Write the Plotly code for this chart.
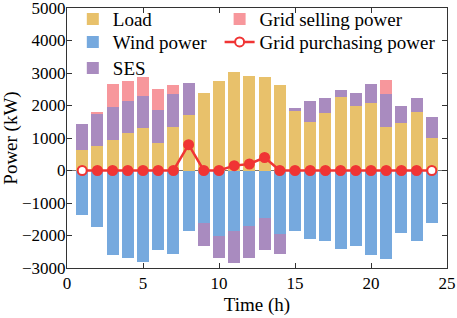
import plotly.graph_objects as go

hours = list(range(1, 25))
load = [630, 750, 940, 1140, 1320, 860, 1350, 1710, 2375, 2750, 3030, 2910,
        2870, 2620, 1840, 1500, 1780, 2270, 1985, 2070, 1350, 1470, 1790, 1000]
wind = [-1370, -1740, -2610, -2690, -2815, -2450, -2570, -1850, -1630, -2015, -1860, -1700,
        -1470, -1950, -1850, -2100, -2170, -2430, -2320, -2610, -2720, -1920, -2170, -1600]
ses = [800, 990, 1000, 1010, 980, 1000, 990, 970, -690, -675, -1000, -990,
       -980, -620, 70, 650, 440, 210, 390, 590, 990, 515, 430, 655]
grid_sell = [0, 40, 720, 600, 570, 640, 290, 0, 0, 0, 0, 0,
             0, 0, 0, 0, 0, 0, 0, 0, 440, 0, 0, 0]
grid_buy = [0, 0, 0, 0, 0, 0, 0, 795, 0, 0, 150, 200,
            400, 0, 0, 0, 0, 0, 0, 0, 0, 0, 0, 0]

FONT = "Liberation Serif"
W = 0.78
RED = "#F03434"

marker_fill = [RED] * len(hours)
marker_fill[0] = "white"
marker_fill[-1] = "white"

fig = go.Figure()
fig.add_trace(go.Bar(x=hours, y=load, name="Load", marker_color="#E8C16B",
                     marker_line_width=0, width=W, legend="legend", showlegend=True))
fig.add_trace(go.Bar(x=hours, y=wind, name="Wind power", marker_color="#76A9DE",
                     marker_line_width=0, width=W, legend="legend2", showlegend=True))
fig.add_trace(go.Bar(x=hours, y=ses, name="SES", marker_color="#A98BBF",
                     marker_line_width=0, width=W, legend="legend3", showlegend=True))
fig.add_trace(go.Bar(x=hours, y=grid_sell, name="Grid selling power", marker_color="#F7979C",
                     marker_line_width=0, width=W, legend="legend4", showlegend=True))
fig.add_trace(go.Scatter(x=hours, y=grid_buy, name="Grid purchasing power", mode="lines+markers",
                         line=dict(color=RED, width=2.5),
                         marker=dict(size=9, color=marker_fill, line=dict(color=RED, width=2)),
                         legend="legend5", showlegend=True))

axis_common = dict(showline=True, linecolor="#333333", linewidth=1, mirror="ticks",
                   ticks="inside", ticklen=5, tickcolor="#333333", showgrid=False,
                   automargin=False, ticklabeloverflow="allow",
                   tickfont=dict(family=FONT, size=17, color="black"),
                   title_font=dict(family=FONT, size=19, color="black"))

legend_common = dict(orientation="v", yanchor="top", xanchor="left",
                     bgcolor="rgba(0,0,0,0)", traceorder="normal", tracegroupgap=0,
                     font=dict(family=FONT, size=19, color="black"))

C1, C2 = 0.0153, 0.4016
R1, R2, R3 = 1.03, 0.942, 0.842

fig.update_layout(
    width=457, height=318,
    showlegend=True,
    margin=dict(l=66.5, r=10, t=7.5, b=50, autoexpand=False),
    paper_bgcolor="white", plot_bgcolor="white",
    barmode="relative", bargap=0,
    font=dict(family=FONT, color="black"),
    legend=dict(x=C1, y=R1, **legend_common),
    legend2=dict(x=C1, y=R2, **legend_common),
    legend3=dict(x=C1, y=R3, **legend_common),
    legend4=dict(x=C2, y=R1, **legend_common),
    legend5=dict(x=C2, y=R2, **legend_common),
    xaxis=dict(range=[0, 25], tickvals=[0, 5, 10, 15, 20, 25],
               title=dict(text="Time (h)", standoff=5), zeroline=False, **axis_common),
    yaxis=dict(range=[-3000, 5000], tickvals=list(range(-3000, 5001, 1000)),
               title=dict(text="Power (kW)", standoff=1), ticklabelstandoff=-3,
               zeroline=True, zerolinecolor="#777777", zerolinewidth=1, **axis_common),
)

fig.write_html("out.html", config={"displayModeBar": False},
               post_script="document.body.style.margin='0';document.body.style.padding='0';")
